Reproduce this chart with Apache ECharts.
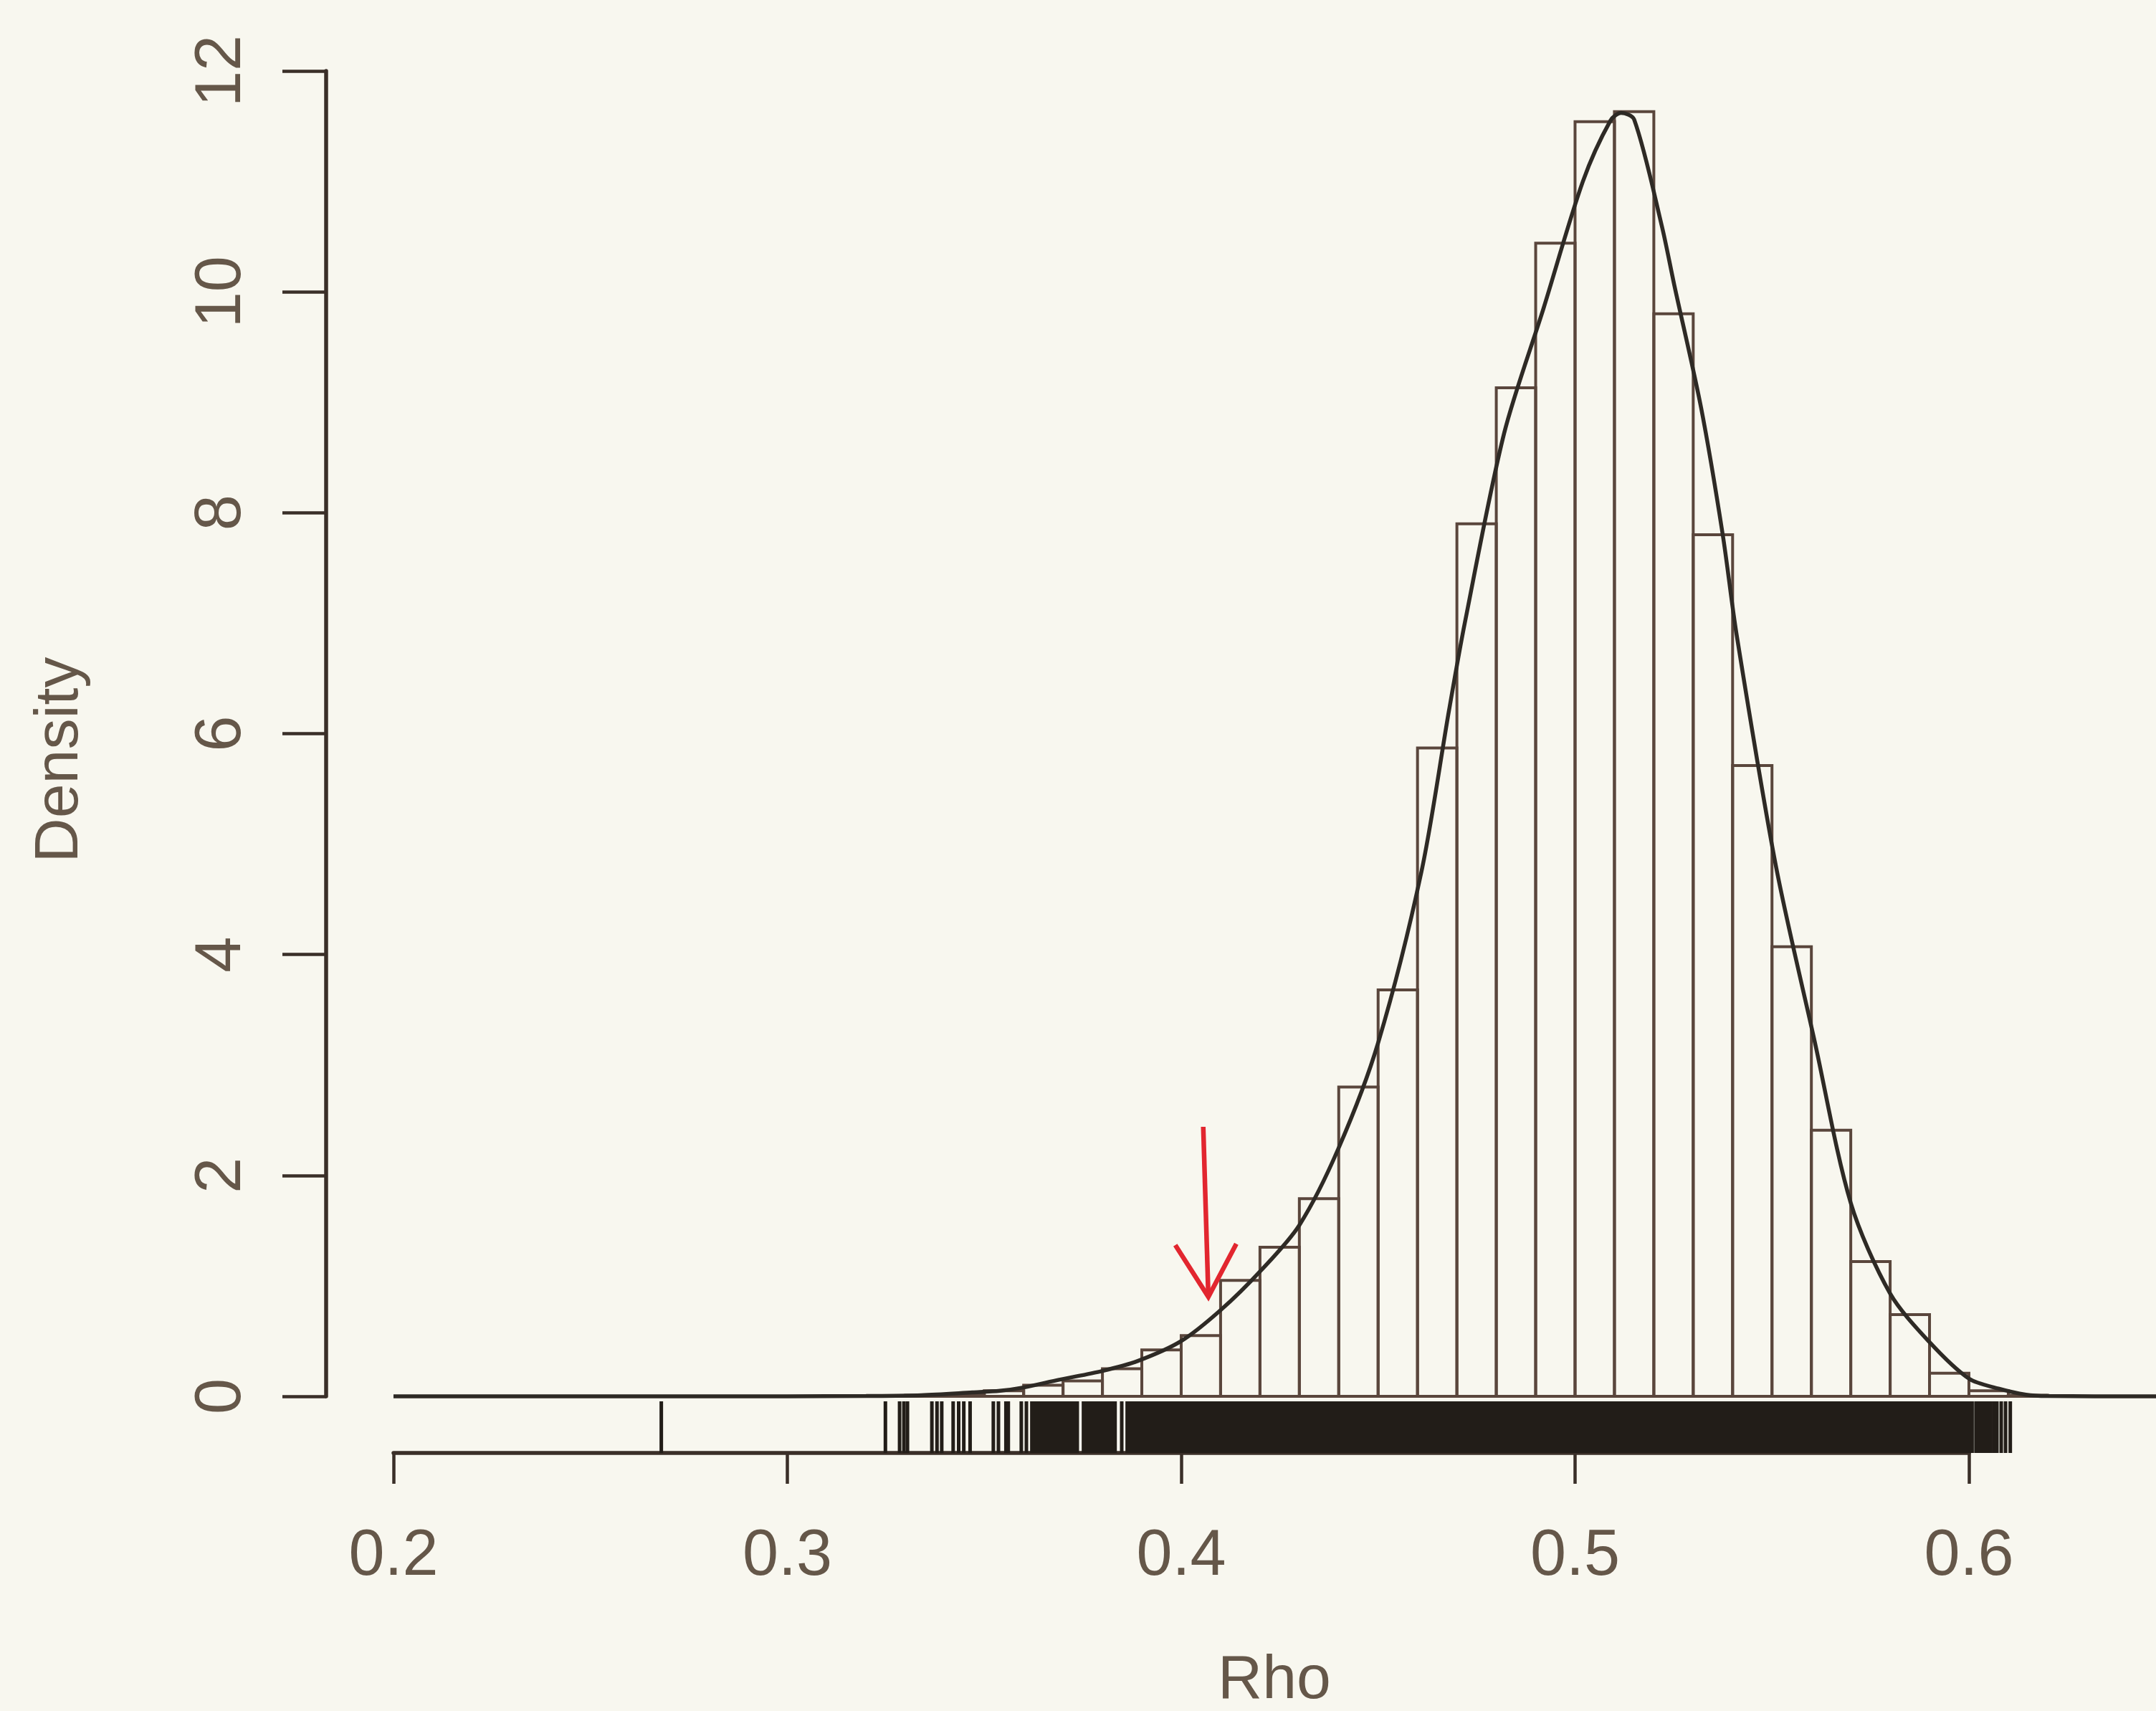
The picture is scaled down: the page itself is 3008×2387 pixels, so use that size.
<!DOCTYPE html>
<html><head><meta charset="utf-8">
<script src="https://cdn.jsdelivr.net/npm/echarts/dist/echarts.min.js"></script>
<style>html,body{margin:0;padding:0;background:#f8f7ef;} #chart{width:3008px;height:2387px;}</style>
</head><body><div id="chart"></div>
<script>
// ---- data ----
const binStart = [0.32,0.33,0.34,0.35,0.36,0.37,0.38,0.39,0.40,0.41,0.42,0.43,0.44,0.45,0.46,0.47,0.48,0.49,0.50,0.51,0.52,0.53,0.54,0.55,0.56,0.57,0.58,0.59,0.60,0.61];
const binDensity = [0.005,0.01,0.02,0.05,0.10,0.14,0.25,0.42,0.55,1.05,1.35,1.79,2.80,3.68,5.87,7.90,9.13,10.44,11.54,11.63,9.80,7.80,5.71,4.07,2.41,1.22,0.74,0.21,0.05,0.01];
const binWidth = 0.01;

const densityX = [0.200,0.300,0.320,0.334,0.347,0.354,0.360,0.369,0.380,0.389,0.400,0.410,0.420,0.430,0.440,0.450,0.461,0.468,0.472,0.482,0.492,0.502,0.509,0.5117,0.515,0.522,0.5252,0.532,0.5375,0.541,0.551,0.5608,0.570,0.580,0.590,0.600,0.6075,0.6145,0.620,0.6475];
const densityY = [0,0,0.003,0.01,0.035,0.05,0.08,0.15,0.23,0.32,0.50,0.78,1.13,1.55,2.25,3.20,4.75,6.21,7.00,8.72,9.85,11.00,11.55,11.62,11.56,10.60,10.06,8.95,7.80,6.90,4.80,3.22,1.75,0.93,0.49,0.16,0.07,0.015,0.003,0];

const rugTicks = [0.268,0.3249,0.3285,0.3296,0.3305,0.3367,0.3380,0.3392,0.3421,0.3435,0.3448,0.3464,0.3523,0.3536,0.3555,0.3561,0.3594,0.3607,0.3849,0.6008,0.6063,0.6071,0.6082,0.6093,0.6105];
const rugBands = [[0.3620,0.3737],[0.3751,0.3833],[0.3862,0.6001],[0.6017,0.6056]];

const xTicks = [0.2,0.3,0.4,0.5,0.6];
const yTicks = [0,2,4,6,8,10,12];

const arrowShaft = [[0.4056,2.44],[0.4069,0.90]];
const arrowHead = [[0.3985,1.37],[0.4069,0.90],[0.4140,1.38]];

// ---- layout / style ----
const X_MIN = 0.1829, X_MAX = 0.6475, Y_MIN = -0.5127, Y_MAX = 12.038;
const FONT = '"Liberation Sans", Arial, sans-serif';
const INK = '#3a2f28', BAR = '#5a463c', TXT = '#655749';

const chart = echarts.init(document.getElementById('chart'), null, {renderer:'canvas'});

const option = {
  backgroundColor: '#f8f7ef',
  animation: false,
  grid: [
    {left:455, right:0, top:93, bottom:360},          // plot region
    {left:455, right:0, top:99, bottom:439},          // y axis 0..12
    {left:549, right:261, top:2017, bottom:360}       // x axis 0.2..0.6
  ],
  xAxis: [
    {gridIndex:0, type:'value', min:X_MIN, max:X_MAX, show:false},
    {gridIndex:1, type:'value', show:false},
    {gridIndex:2, type:'value', min:0.2, max:0.6, interval:0.1, position:'bottom',
     axisLine:{show:true, lineStyle:{color:INK, width:5.5}},
     axisTick:{show:true, length:43, lineStyle:{color:INK, width:4.5}},
     axisLabel:{margin:100, fontSize:90, color:TXT, fontFamily:FONT,
       formatter: v => xTicks.find(t => Math.abs(t - v) < 1e-6).toFixed(1)},
     splitLine:{show:false}}
  ],
  yAxis: [
    {gridIndex:0, type:'value', min:Y_MIN, max:Y_MAX, show:false},
    {gridIndex:1, type:'value', min:0, max:12, interval:2, position:'left',
     axisLine:{show:true, lineStyle:{color:INK, width:5.5}},
     axisTick:{show:true, length:61, lineStyle:{color:INK, width:4.5}},
     axisLabel:{rotate:90, margin:100, fontSize:90, color:TXT, fontFamily:FONT,
       formatter: v => String(yTicks.find(t => Math.abs(t - v) < 1e-6))},
     splitLine:{show:false}},
    {gridIndex:2, type:'value', show:false}
  ],
  graphic: [
    {type:'text', x:84, y:1060, rotation:Math.PI/2,
     style:{text:'Density', fill:TXT, font:'86px ' + FONT, textAlign:'center', textVerticalAlign:'middle'}},
    {type:'text', x:1778, y:2345,
     style:{text:'Rho', fill:TXT, font:'86px ' + FONT, textAlign:'center', textVerticalAlign:'middle'}}
  ],
  series: [
    {
      type:'custom', xAxisIndex:0, yAxisIndex:0, z:2,
      data: binStart.map((s,i) => [s, s + binWidth, binDensity[i]]),
      renderItem(params, api){
        const p0 = api.coord([api.value(0), api.value(2)]);
        const p1 = api.coord([api.value(1), 0]);
        return {type:'rect', shape:{x:p0[0], y:p0[1], width:p1[0]-p0[0], height:p1[1]-p0[1]},
          style:{fill:'none', stroke:BAR, lineWidth:4}};
      }
    },
    {
      type:'line', xAxisIndex:0, yAxisIndex:0, z:3,
      data: densityX.map((x,i) => [x, densityY[i]]),
      showSymbol:false, smooth:0.3, clip:false,
      lineStyle:{color:'#2e2a25', width:5.5}
    },
    {
      type:'custom', xAxisIndex:0, yAxisIndex:0, z:4,
      data: rugBands,
      renderItem(params, api){
        const a = api.coord([api.value(0), Y_MIN]);
        const b = api.coord([api.value(1), Y_MIN]);
        return {type:'rect', shape:{x:a[0]-2, y:a[1]-72, width:b[0]-a[0]+4, height:72},
          style:{fill:'#221d18'}};
      }
    },
    {
      type:'custom', xAxisIndex:0, yAxisIndex:0, z:4,
      data: rugTicks.map(v => [v]),
      renderItem(params, api){
        const a = api.coord([api.value(0), Y_MIN]);
        return {type:'line', shape:{x1:a[0], y1:a[1], x2:a[0], y2:a[1]-72},
          style:{stroke:'#221d18', lineWidth:5}};
      }
    },
    {
      type:'line', xAxisIndex:0, yAxisIndex:0, z:5, data: arrowShaft,
      showSymbol:false, lineStyle:{color:'#e2262f', width:6.5}
    },
    {
      type:'line', xAxisIndex:0, yAxisIndex:0, z:5, data: arrowHead,
      showSymbol:false, lineStyle:{color:'#e2262f', width:6.5, join:'miter'}
    }
  ]
};
chart.setOption(option);
</script>
</body></html>
